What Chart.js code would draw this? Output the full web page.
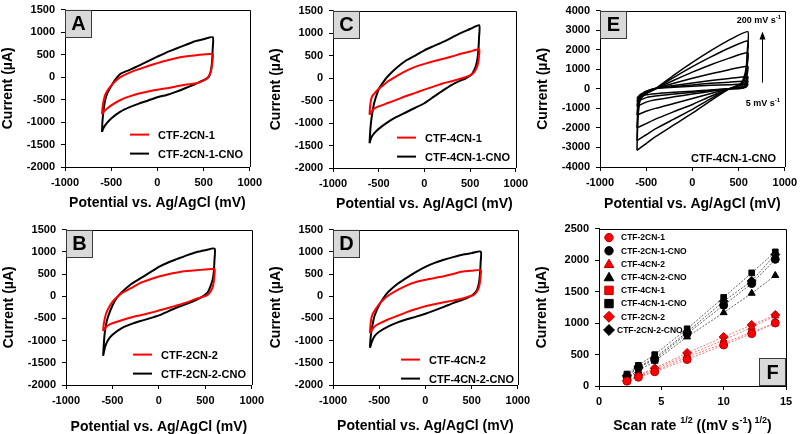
<!DOCTYPE html>
<html>
<head>
<meta charset="utf-8">
<script src="https://cdn.jsdelivr.net/npm/chart.js@4.4.0/dist/chart.umd.min.js"></script>
<style>
  html, body { margin: 0; padding: 0; background: #fff; width: 800px; height: 434px; overflow: hidden; position: relative; }
  canvas { position: absolute; }
</style>
</head>
<body>
<canvas id="pA"></canvas>
<canvas id="pB"></canvas>
<canvas id="pC"></canvas>
<canvas id="pD"></canvas>
<canvas id="pE"></canvas>
<canvas id="pF"></canvas>
<script>
/* ── CV sweep potentials (mV): forward -600 → 600, then back to -600 ── */
const sweepE = [-600, -595, -585, -570, -550, -500, -450, -400, -300, -200, -100, 0, 100, 200, 300, 400, 500, 600,
                598, 592, 580, 560, 530, 500, 450, 400, 300, 200, 100, 0, -100, -200, -300, -400, -500, -550, -580, -600];

const cur2CN1    = [-830, -700, -560, -430, -330, -190, -80, 0, 100, 175, 245, 310, 370, 420, 455, 480, 500, 511,
                    400, 270, 130, 30, -40, -80, -120, -145, -170, -210, -250, -282, -320, -365, -430, -510, -630, -710, -770, -830];
const cur2CN1CNO = [-1220, -1000, -780, -560, -400, -200, -40, 70, 160, 255, 355, 453, 550, 630, 710, 790, 840, 886,
                    600, 350, 150, 20, -40, -70, -120, -165, -250, -330, -400, -448, -520, -590, -670, -770, -920, -1030, -1120, -1220];
const cur2CN2    = [-785, -650, -530, -400, -300, -130, -20, 70, 180, 300, 375, 443, 495, 535, 565, 585, 600, 610,
                    480, 340, 210, 120, 40, 5, -30, -60, -140, -205, -265, -324, -380, -430, -480, -540, -610, -660, -720, -785];
const cur2CN2CNO = [-1344, -1150, -870, -650, -480, -210, -30, 90, 270, 400, 530, 661, 760, 840, 920, 990, 1035, 1070,
                    800, 560, 380, 250, 100, 40, -30, -85, -170, -250, -340, -433, -500, -560, -630, -720, -870, -1000, -1150, -1344];
const cur4CN1    = [-818, -640, -500, -400, -350, -240, -160, -75, 50, 160, 250, 316, 375, 425, 480, 540, 590, 638,
                    500, 380, 270, 180, 100, 60, 20, -10, -70, -120, -190, -258, -330, -400, -480, -555, -630, -680, -750, -818];
const cur4CN1CNO = [-1450, -1250, -1000, -780, -560, -250, -90, 40, 235, 390, 500, 617, 710, 800, 900, 1005, 1090, 1176,
                    900, 650, 420, 250, 120, 50, -10, -50, -150, -280, -420, -560, -660, -760, -860, -980, -1130, -1230, -1320, -1450];
const cur4CN2    = [-834, -660, -500, -400, -330, -178, -70, 15, 140, 245, 320, 370, 410, 450, 500, 555, 575, 589,
                    460, 330, 210, 110, 40, 10, -20, -50, -100, -135, -180, -228, -290, -360, -440, -520, -620, -680, -760, -834];
const cur4CN2CNO = [-1162, -980, -800, -620, -440, -200, -30, 100, 280, 420, 550, 662, 750, 820, 880, 935, 970, 1004,
                    760, 520, 300, 150, 60, 10, -40, -80, -155, -240, -320, -395, -460, -520, -590, -680, -800, -900, -1030, -1162];

/* ── Panel E: CTF-4CN-1-CNO at several scan rates ── */
const sweepRate = [-600, -590, -570, -540, -500, -400, -200, 0, 200, 400, 600,
                   595, 585, 560, 520, 400, 200, 0, -200, -400, -500, -600];
const rate5   = [-500, -420, -320, -230, -120, 20, 80, 130, 180, 210, 240,   170, 100, 50, 15, 0, -60, -120, -180, -250, -310, -500];
const rate10  = [-650, -500, -350, -250, -130, 20, 120, 200, 280, 340, 400,  280, 170, 80, 30, 0, -90, -180, -270, -370, -450, -650];
const rate20  = [-900, -600, -400, -280, -150, 20, 170, 300, 420, 530, 620,  430, 260, 130, 50, 0, -130, -270, -410, -560, -680, -900];
const rate50  = [-1350, -800, -480, -320, -180, 0, 280, 540, 770, 980, 1150, 800, 480, 240, 100, 0, -240, -500, -750, -1000, -1150, -1350];
const rate100 = [-2000, -1100, -550, -350, -200, 0, 440, 850, 1230, 1570, 1840, 1250, 750, 380, 160, 0, -380, -800, -1170, -1550, -1780, -2000];
const rate150 = [-2650, -1350, -600, -380, -230, 0, 580, 1130, 1630, 2090, 2440, 1700, 1000, 500, 210, 0, -500, -1050, -1550, -2050, -2350, -2650];
const rate200 = [-3150, -1600, -650, -400, -250, 0, 700, 1350, 1950, 2500, 2920, 2000, 1200, 600, 250, 0, -600, -1250, -1850, -2450, -2800, -3150];

/* ── Panel F: peak current vs. root of scan rate ── */
const scanRoot  = [2.24, 3.16, 4.47, 7.07, 10, 12.25, 14.14];
const f2CN1     = [77, 139, 226, 421, 652, 832, 1001];
const f2CN1CNO  = [149, 293, 421, 832, 1283, 1627, 2012];
const f4CN2     = [87, 164, 267, 488, 729, 934, 1114];
const f4CN2CNO  = [139, 241, 395, 780, 1165, 1473, 1756];
const f4CN1     = [87, 149, 241, 457, 678, 857, 1001];
const f4CN1CNO  = [190, 329, 498, 909, 1407, 1797, 2130];
const f2CN2     = [87, 175, 282, 524, 780, 970, 1129];
const f2CN2CNO  = [164, 303, 447, 857, 1345, 1668, 2089];

/* ── Axis tick setup ── */
const cvTicksX = { min: -1000, max: 1000, step: 500 };
const cvTicksY = { min: -2000, max: 1500, step: 500 };
const eTicksY  = { min: -4000, max: 4000, step: 1000 };
const fTicksX  = { min: 0, max: 15, step: 5 };
const fTicksY  = { min: 0, max: 2500, step: 500 };

const FONT = "'Liberation Sans', Arial, Helvetica, sans-serif";
Chart.defaults.font.family = FONT;
Chart.defaults.font.weight = 'bold';
Chart.defaults.color = '#000';

const PAD_L = 65, PAD_T = 8, PAD_R = 15;
const pts = (xs, ys) => xs.map((x, i) => ({ x, y: ys[i] }));

/* text with superscripts: parts = [{t, size, rise}] */
function richText(ctx, parts, x, y, align) {
  let w = 0;
  parts.forEach(p => { ctx.font = `bold ${p.size}px ${FONT}`; p.w = ctx.measureText(p.t).width; w += p.w; });
  let cx = align === 'right' ? x - w : align === 'center' ? x - w / 2 : x;
  ctx.textAlign = 'left';
  ctx.textBaseline = 'middle';
  parts.forEach(p => {
    ctx.font = `bold ${p.size}px ${FONT}`;
    ctx.fillText(p.t, cx, y - (p.rise || 0));
    cx += p.w;
  });
}

function marker(ctx, style, x, y, r, fill, stroke) {
  ctx.beginPath();
  if (style === 'circle') ctx.arc(x, y, r, 0, Math.PI * 2);
  else if (style === 'triangle') { ctx.moveTo(x, y - r * 1.15); ctx.lineTo(x + r * 1.15, y + r * 0.85); ctx.lineTo(x - r * 1.15, y + r * 0.85); ctx.closePath(); }
  else if (style === 'rect') ctx.rect(x - r, y - r, 2 * r, 2 * r);
  else if (style === 'rectRot') { ctx.moveTo(x, y - r * 1.3); ctx.lineTo(x + r * 1.3, y); ctx.lineTo(x, y + r * 1.3); ctx.lineTo(x - r * 1.3, y); ctx.closePath(); }
  ctx.fillStyle = fill; ctx.fill();
  ctx.strokeStyle = stroke; ctx.lineWidth = 1; ctx.stroke();
}

/* frame, panel letter, legend, notes */
function panelPlugin(cfg) {
  return {
    id: 'panel',
    afterDatasetsDraw(chart) {
      const { ctx, chartArea: a } = chart;
      ctx.save();
      ctx.strokeStyle = '#000';
      ctx.lineWidth = 1;
      ctx.beginPath();
      ctx.moveTo(Math.round(a.left), Math.round(a.top) + 0.5);
      ctx.lineTo(Math.round(a.right) + 0.5, Math.round(a.top) + 0.5);
      ctx.lineTo(Math.round(a.right) + 0.5, Math.round(a.bottom));
      ctx.stroke();

      /* letter box */
      const bw = 27, bh = 28;
      const bx = cfg.corner === 'br' ? a.right - bw : a.left;
      const by = cfg.corner === 'br' ? a.bottom - bh : a.top;
      ctx.fillStyle = '#d9d9d9';
      ctx.fillRect(bx, by, bw, bh);
      ctx.strokeStyle = '#3a3a3a';
      ctx.strokeRect(Math.round(bx) + 0.5, Math.round(by) + 0.5, bw - 1, bh - 1);
      ctx.fillStyle = '#000';
      ctx.font = `bold 20px ${FONT}`;
      ctx.textAlign = 'center';
      ctx.textBaseline = 'middle';
      ctx.fillText(cfg.letter, bx + bw / 2, by + bh / 2 + 1);

      /* line legend (CV panels) */
      if (cfg.lineLegend) {
        const L = cfg.lineLegend;
        chart.data.datasets.forEach((ds, i) => {
          const y = a.top + L.y + i * 19;
          ctx.strokeStyle = ds.borderColor;
          ctx.lineWidth = 2;
          ctx.beginPath();
          ctx.moveTo(a.left + L.x, y);
          ctx.lineTo(a.left + L.x + 19, y);
          ctx.stroke();
          ctx.fillStyle = '#000';
          ctx.font = `bold 11px ${FONT}`;
          ctx.textAlign = 'left';
          ctx.textBaseline = 'middle';
          ctx.fillText(ds.label, a.left + L.x + 28, y + 1);
        });
      }

      /* marker legend (panel F) */
      if (cfg.markLegend) {
        chart.data.datasets.forEach((ds, i) => {
          const y = a.top + 9 + i * 13.2;
          marker(ctx, ds.pointStyle, a.left + 10, y, 4.2, ds.pointBackgroundColor, ds.pointBorderColor);
          ctx.fillStyle = '#000';
          ctx.font = `bold 8.5px ${FONT}`;
          ctx.textAlign = 'left';
          ctx.textBaseline = 'middle';
          ctx.fillText(ds.label, a.left + (i === 7 ? 18 : 22), y + 0.5);
        });
      }

      if (cfg.notes) cfg.notes(ctx, a);
      if (cfg.xTitleRich) {
        ctx.fillStyle = '#000';
        richText(ctx, cfg.xTitleRich, (a.left + a.right) / 2, a.bottom + cfg.gap, 'center');
      }
      ctx.restore();
    }
  };
}

function axis(t, title, isX, gap) {
  const ax = {
    type: 'linear',
    min: t.min, max: t.max,
    ticks: { stepSize: t.step, autoSkip: false, padding: isX ? 5 : 6, font: { size: 11, weight: 'bold' }, color: '#000',
             callback: v => String(v) },
    grid: { drawOnChartArea: false, drawTicks: true, tickLength: 4, color: '#000', lineWidth: 1 },
    border: { display: true, color: '#000', width: 1 },
    title: { display: !!title, text: title, font: { size: 14, weight: 'bold' }, color: '#000',
             padding: isX ? { top: 0, bottom: 3.6 } : { top: 0, bottom: 0 } }
  };
  if (isX) ax.afterFit = s => { s.height = gap + 12; };
  else ax.afterFit = s => { s.width = PAD_L; };
  return ax;
}

function makePanel(id, area, gap, datasets, xt, yt, xTitle, cfg) {
  const cv = document.getElementById(id);
  cv.width = PAD_L + area.w + PAD_R;
  cv.height = PAD_T + area.h + gap + 12;
  cv.style.left = (area.x - PAD_L) + 'px';
  cv.style.top = (area.y - PAD_T) + 'px';
  cfg.gap = gap;
  return new Chart(cv, {
    type: 'scatter',
    data: { datasets },
    options: {
      responsive: false,
      animation: false,
      layout: { padding: { top: PAD_T, right: PAD_R, left: 0, bottom: 0 } },
      plugins: { legend: { display: false }, tooltip: { enabled: false } },
      scales: { x: axis(xt, xTitle, true, gap), y: axis(yt, 'Current (\u00b5A)', false) }
    },
    plugins: [panelPlugin(cfg)]
  });
}

function cvSet(label, ys, color, xs, w) {
  return { label, data: pts(xs || sweepE, ys), showLine: true, borderColor: color, borderWidth: w || 2,
           pointRadius: 0, tension: 0.2, fill: false };
}

const POT = 'Potential vs. Ag/AgCl (mV)';
const RED = '#ff0000', BLACK = '#000000';

makePanel('pA', { x: 65, y: 5, w: 187, h: 162 }, 36,
  [cvSet('CTF-2CN-1', cur2CN1, RED), cvSet('CTF-2CN-1-CNO', cur2CN1CNO, BLACK)],
  cvTicksX, cvTicksY, POT, { letter: 'A', lineLegend: { x: 65, y: 125 } });

makePanel('pB', { x: 66, y: 225, w: 188, h: 160 }, 42,
  [cvSet('CTF-2CN-2', cur2CN2, RED), cvSet('CTF-2CN-2-CNO', cur2CN2CNO, BLACK)],
  cvTicksX, cvTicksY, POT, { letter: 'B', lineLegend: { x: 67, y: 125 } });

makePanel('pC', { x: 333, y: 6, w: 185, h: 162 }, 36,
  [cvSet('CTF-4CN-1', cur4CN1, RED), cvSet('CTF-4CN-1-CNO', cur4CN1CNO, BLACK)],
  cvTicksX, cvTicksY, POT, { letter: 'C', lineLegend: { x: 64, y: 127 } });

makePanel('pD', { x: 333, y: 225, w: 187, h: 160 }, 41,
  [cvSet('CTF-4CN-2', cur4CN2, RED), cvSet('CTF-4CN-2-CNO', cur4CN2CNO, BLACK)],
  cvTicksX, cvTicksY, POT, { letter: 'D', lineLegend: { x: 68, y: 130 } });

makePanel('pE', { x: 600, y: 6, w: 187, h: 161 }, 37,
  [rate200, rate150, rate100, rate50, rate20, rate10, rate5].map((r, i) =>
    cvSet('rate' + i, r, BLACK, sweepRate, 1.5)),
  cvTicksX, eTicksY, POT, {
    letter: 'E',
    notes(ctx, a) {
      ctx.fillStyle = '#000';
      richText(ctx, [{ t: '200 mV s', size: 9 }, { t: '-1', size: 6, rise: 3 }], a.left + 181, a.top + 10, 'right');
      richText(ctx, [{ t: '5 mV s', size: 9 }, { t: '-1', size: 6, rise: 3 }], a.left + 180, a.top + 93, 'right');
      ctx.font = `bold 11px ${FONT}`;
      ctx.textAlign = 'right';
      ctx.textBaseline = 'middle';
      ctx.fillText('CTF-4CN-1-CNO', a.left + 176, a.top + 148);
      const ax = a.left + 162.5;
      ctx.strokeStyle = '#000';
      ctx.lineWidth = 1;
      ctx.beginPath(); ctx.moveTo(ax, a.top + 72); ctx.lineTo(ax, a.top + 27); ctx.stroke();
      ctx.beginPath(); ctx.moveTo(ax, a.top + 21); ctx.lineTo(ax + 3, a.top + 29); ctx.lineTo(ax - 3, a.top + 29); ctx.closePath(); ctx.fill();
    }
  });

function fSet(label, ys, red, style) {
  return { label, data: pts(scanRoot, ys), showLine: true,
           borderColor: red ? 'rgba(240,110,110,0.9)' : 'rgba(80,80,80,0.9)', borderWidth: 1, borderDash: [2, 1.5],
           pointStyle: style, pointRadius: style === 'rectRot' ? 4.5 : 4,
           pointBackgroundColor: red ? '#ff0000' : '#000000', pointBorderColor: red ? '#b00000' : '#000000',
           pointBorderWidth: 1, tension: 0 };
}

makePanel('pF', { x: 599, y: 224, w: 187, h: 162 }, 40,
  [fSet('CTF-2CN-1', f2CN1, true, 'circle'), fSet('CTF-2CN-1-CNO', f2CN1CNO, false, 'circle'),
   fSet('CTF-4CN-2', f4CN2, true, 'triangle'), fSet('CTF-4CN-2-CNO', f4CN2CNO, false, 'triangle'),
   fSet('CTF-4CN-1', f4CN1, true, 'rect'), fSet('CTF-4CN-1-CNO', f4CN1CNO, false, 'rect'),
   fSet('CTF-2CN-2', f2CN2, true, 'rectRot'), fSet('CTF-2CN-2-CNO', f2CN2CNO, false, 'rectRot')],
  fTicksX, fTicksY, '', {
    letter: 'F', corner: 'br', markLegend: true,
    xTitleRich: [{ t: 'Scan rate ', size: 14 }, { t: '1/2', size: 9, rise: 5 }, { t: ' ((mV s', size: 14 },
                 { t: '-1', size: 9, rise: 5 }, { t: ')', size: 14 }, { t: ' 1/2', size: 9, rise: 5 }, { t: ')', size: 14 }]
  });
</script>
</body>
</html>
